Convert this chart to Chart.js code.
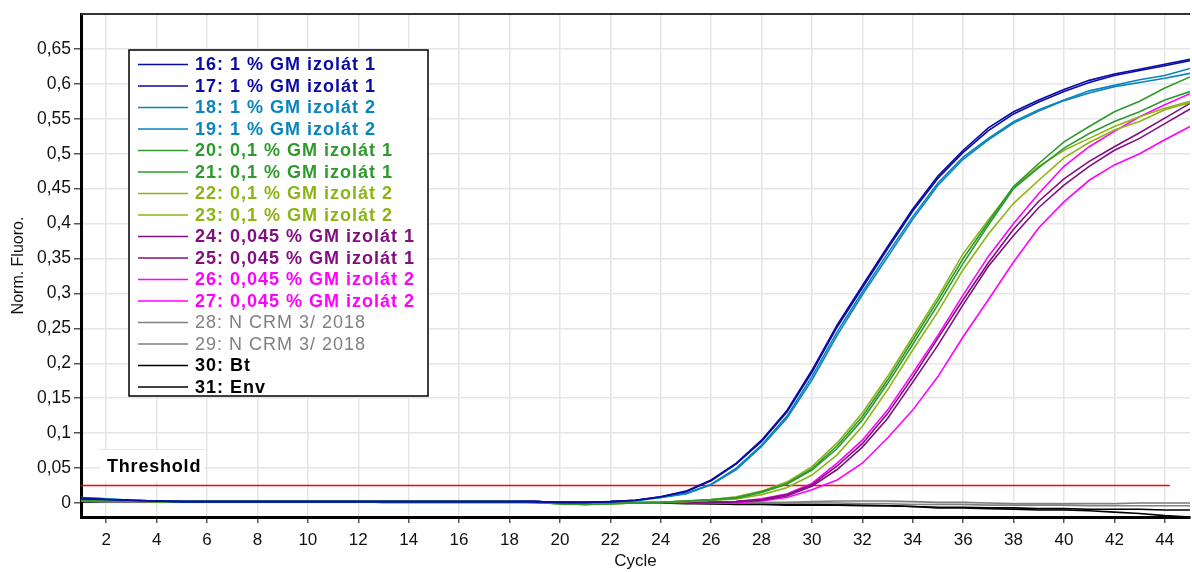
<!DOCTYPE html>
<html>
<head>
<meta charset="utf-8">
<script src="https://cdn.jsdelivr.net/npm/chart.js"></script>
<style>
  html, body { margin: 0; padding: 0; background: #fff; }
  #wrap { width: 1192px; height: 572px; }
</style>
</head>
<body>
<div id="wrap"><canvas id="chart" width="1192" height="572"></canvas></div>
<script>
// cycles on the x axis
const cycles = [1,2,3,4,5,6,7,8,9,10,11,12,13,14,15,16,17,18,19,20,21,22,23,24,25,26,27,28,29,30,31,32,33,34,35,36,37,38,39,40,41,42,43,44,45];
const xTicks = [2,4,6,8,10,12,14,16,18,20,22,24,26,28,30,32,34,36,38,40,42,44];
const yTicks = [0,0.05,0.1,0.15,0.2,0.25,0.3,0.35,0.4,0.45,0.5,0.55,0.6,0.65];

const thresholdValue = 0.025;
const thresholdEnd = 44.2;

// series names + colours
const seriesNames = [
  '16: 1 % GM izolát 1', '17: 1 % GM izolát 1',
  '18: 1 % GM izolát 2', '19: 1 % GM izolát 2',
  '20: 0,1 % GM izolát 1', '21: 0,1 % GM izolát 1',
  '22: 0,1 % GM izolát 2', '23: 0,1 % GM izolát 2',
  '24: 0,045 % GM izolát 1', '25: 0,045 % GM izolát 1',
  '26: 0,045 % GM izolát 2', '27: 0,045 % GM izolát 2',
  '28: N CRM 3/ 2018', '29: N CRM 3/ 2018',
  '30: Bt', '31: Env'
];
const seriesColors = [
  '#0a0aa5', '#0a0aa5', '#0a84bd', '#0a84bd',
  '#2e9a2e', '#2e9a2e', '#8cb414', '#8cb414',
  '#801080', '#801080', '#ff00ff', '#ff00ff',
  '#808080', '#808080', '#000000', '#000000'
];
const seriesBold = [true,true,true,true,true,true,true,true,true,true,true,true,false,false,true,true];

// normalised fluorescence per cycle
const s16 = [0.007,0.005,0.004,0.003,0.002,0.002,0.002,0.002,0.002,0.002,0.002,0.002,0.002,0.002,0.002,0.002,0.002,0.002,0.002,0.001,0.001,0.002,0.004,0.009,0.017,0.033,0.057,0.090,0.132,0.190,0.255,0.311,0.367,0.421,0.468,0.505,0.537,0.560,0.577,0.592,0.605,0.614,0.621,0.628,0.635];
const s17 = [0.006,0.005,0.004,0.003,0.002,0.002,0.002,0.002,0.002,0.002,0.002,0.002,0.002,0.002,0.002,0.002,0.002,0.002,0.002,0.001,0.001,0.002,0.004,0.009,0.016,0.032,0.056,0.088,0.130,0.187,0.252,0.308,0.364,0.418,0.465,0.502,0.533,0.557,0.574,0.589,0.602,0.612,0.619,0.626,0.633];
const s18 = [0.008,0.006,0.004,0.003,0.002,0.002,0.002,0.002,0.002,0.002,0.002,0.002,0.002,0.002,0.002,0.002,0.002,0.002,0.002,0.001,0.001,0.002,0.004,0.008,0.014,0.027,0.050,0.083,0.124,0.181,0.245,0.302,0.357,0.410,0.458,0.495,0.522,0.546,0.563,0.577,0.590,0.598,0.606,0.612,0.622];
const s19 = [0.008,0.006,0.004,0.003,0.002,0.002,0.002,0.002,0.002,0.002,0.002,0.002,0.002,0.002,0.002,0.002,0.002,0.002,0.002,0.001,0.001,0.002,0.003,0.008,0.013,0.026,0.048,0.081,0.121,0.176,0.240,0.298,0.352,0.406,0.455,0.492,0.520,0.544,0.561,0.576,0.587,0.596,0.602,0.608,0.615];
const s20 = [0.004,0.003,0.003,0.002,0.002,0.002,0.002,0.002,0.002,0.002,0.002,0.002,0.002,0.002,0.002,0.002,0.002,0.002,0.001,-0.001,-0.002,-0.001,0.000,0.001,0.003,0.005,0.008,0.016,0.028,0.049,0.082,0.124,0.176,0.233,0.290,0.350,0.402,0.453,0.486,0.517,0.539,0.560,0.575,0.594,0.610];
const s21 = [0.004,0.003,0.003,0.002,0.002,0.002,0.002,0.002,0.002,0.002,0.002,0.002,0.002,0.002,0.002,0.002,0.002,0.002,0.001,-0.001,-0.002,-0.001,0.000,0.001,0.003,0.004,0.007,0.015,0.027,0.047,0.078,0.119,0.171,0.227,0.284,0.343,0.398,0.450,0.480,0.508,0.529,0.546,0.560,0.577,0.589];
const s22 = [0.004,0.003,0.003,0.002,0.002,0.002,0.002,0.002,0.002,0.002,0.002,0.002,0.002,0.002,0.002,0.002,0.002,0.002,0.001,-0.001,-0.002,-0.001,0.000,0.001,0.003,0.005,0.009,0.017,0.030,0.052,0.086,0.129,0.181,0.238,0.295,0.357,0.405,0.452,0.482,0.505,0.522,0.539,0.553,0.565,0.575];
const s23 = [0.004,0.003,0.003,0.002,0.002,0.002,0.002,0.002,0.002,0.002,0.002,0.002,0.002,0.002,0.002,0.002,0.002,0.002,0.001,-0.001,-0.002,-0.001,0.000,0.001,0.002,0.004,0.006,0.012,0.022,0.040,0.069,0.110,0.162,0.219,0.274,0.334,0.385,0.429,0.462,0.494,0.516,0.534,0.546,0.563,0.573];
const s24 = [0.004,0.003,0.003,0.002,0.002,0.002,0.002,0.002,0.002,0.002,0.002,0.002,0.002,0.002,0.002,0.002,0.002,0.002,0.002,0.001,0.000,0.000,0.000,0.000,0.000,0.001,0.002,0.005,0.012,0.026,0.053,0.085,0.128,0.180,0.236,0.291,0.344,0.392,0.432,0.464,0.489,0.510,0.530,0.551,0.572];
const s25 = [0.004,0.003,0.003,0.002,0.002,0.002,0.002,0.002,0.002,0.002,0.002,0.002,0.002,0.002,0.002,0.002,0.002,0.002,0.002,0.001,0.000,0.000,0.000,0.000,0.000,0.001,0.002,0.004,0.010,0.024,0.048,0.080,0.121,0.173,0.226,0.284,0.339,0.383,0.423,0.455,0.482,0.505,0.522,0.543,0.564];
const s26 = [0.005,0.004,0.003,0.002,0.002,0.002,0.002,0.002,0.002,0.002,0.002,0.002,0.001,0.001,0.001,0.001,0.001,0.001,0.001,0.001,0.000,0.000,0.000,0.000,0.000,0.001,0.002,0.006,0.013,0.028,0.057,0.090,0.133,0.186,0.240,0.298,0.353,0.400,0.443,0.482,0.510,0.532,0.553,0.570,0.586];
const s27 = [0.005,0.004,0.003,0.002,0.002,0.002,0.002,0.002,0.002,0.002,0.002,0.002,0.001,0.001,0.001,0.001,0.001,0.001,0.001,0.001,0.000,0.000,0.000,0.000,0.000,0.000,0.001,0.003,0.008,0.019,0.033,0.057,0.093,0.133,0.181,0.238,0.291,0.345,0.394,0.431,0.462,0.484,0.500,0.520,0.539];
const s28 = [0.003,0.002,0.002,0.002,0.002,0.002,0.002,0.002,0.002,0.002,0.002,0.002,0.002,0.002,0.002,0.002,0.002,0.002,0.002,0.001,0.001,0.001,0.001,0.001,0.001,0.001,0.001,0.001,0.001,0.002,0.003,0.003,0.003,0.002,0.001,0.001,0.000,-0.001,-0.001,-0.001,-0.001,-0.001,0.000,0.000,0.000];
const s29 = [0.003,0.002,0.002,0.002,0.002,0.002,0.002,0.002,0.002,0.002,0.002,0.002,0.002,0.002,0.002,0.002,0.002,0.002,0.002,0.001,0.001,0.001,0.001,0.001,0.000,0.000,0.000,0.000,0.000,0.000,0.000,-0.001,-0.001,-0.002,-0.002,-0.002,-0.003,-0.003,-0.003,-0.003,-0.004,-0.004,-0.004,-0.004,-0.004];
const s30 = [0.002,0.002,0.002,0.002,0.002,0.002,0.002,0.002,0.002,0.002,0.002,0.002,0.002,0.002,0.002,0.002,0.002,0.002,0.002,0.001,0.001,0.000,0.000,0.000,0.000,-0.001,-0.001,-0.001,-0.002,-0.002,-0.003,-0.003,-0.004,-0.005,-0.006,-0.006,-0.007,-0.007,-0.008,-0.008,-0.009,-0.009,-0.009,-0.010,-0.010];
const s31 = [0.002,0.002,0.002,0.002,0.002,0.002,0.002,0.002,0.002,0.002,0.002,0.002,0.002,0.002,0.002,0.002,0.002,0.002,0.002,0.001,0.001,0.000,0.000,0.000,-0.001,-0.001,-0.002,-0.002,-0.003,-0.003,-0.003,-0.004,-0.004,-0.005,-0.007,-0.007,-0.008,-0.009,-0.010,-0.010,-0.011,-0.013,-0.015,-0.018,-0.020];

const seriesValues = [s16,s17,s18,s19,s20,s21,s22,s23,s24,s25,s26,s27,s28,s29,s30,s31];

const FONT = "'Liberation Sans', Arial, sans-serif";

const datasets = seriesValues.map((vals, i) => ({
  label: seriesNames[i],
  data: vals.map((v, k) => ({ x: cycles[k], y: v })),
  borderColor: seriesColors[i],
  borderWidth: 1.6,
  pointRadius: 0,
  fill: false,
  tension: 0
}));

// red threshold line
datasets.push({
  label: 'Threshold',
  data: [{ x: cycles[0], y: thresholdValue }, { x: thresholdEnd, y: thresholdValue }],
  borderColor: '#ff0000',
  borderWidth: 1.6,
  pointRadius: 0,
  fill: false
});

// top frame, threshold label and legend box
const overlay = {
  id: 'overlay',
  afterDatasetsDraw(chart) {
    const ctx = chart.ctx;
    const a = chart.chartArea;
    ctx.save();
    // top border
    ctx.strokeStyle = '#333';
    ctx.lineWidth = 2;
    ctx.beginPath();
    ctx.moveTo(a.left, a.top);
    ctx.lineTo(a.right, a.top);
    ctx.stroke();

    // Threshold label
    const ty = chart.scales.y.getPixelForValue(thresholdValue);
    ctx.fillStyle = '#fff';
    ctx.fillRect(a.left + 19, ty - 36, 104, 32);
    ctx.strokeStyle = '#e4e4e4';
    ctx.lineWidth = 1;
    ctx.beginPath();
    ctx.moveTo(a.left + 19, ty - 36);
    ctx.lineTo(a.left + 123, ty - 36);
    ctx.stroke();
    ctx.fillStyle = '#000';
    ctx.font = 'bold 18px ' + FONT;
    ctx.letterSpacing = '0.8px';
    ctx.textBaseline = 'middle';
    ctx.textAlign = 'left';
    ctx.fillText('Threshold', a.left + 26, ty - 19);

    // legend
    const lx = a.left + 48, ly = a.top + 36, lw = 299, lh = 346;
    ctx.fillStyle = '#fff';
    ctx.fillRect(lx, ly, lw, lh);
    ctx.strokeStyle = '#000';
    ctx.lineWidth = 1.5;
    ctx.strokeRect(lx, ly, lw, lh);
    const rowH = 21.5;
    chart.data.datasets.slice(0, seriesNames.length).forEach((ds, i) => {
      const cy = ly + 14.5 + i * rowH;
      ctx.strokeStyle = ds.borderColor;
      ctx.lineWidth = 1.6;
      ctx.beginPath();
      ctx.moveTo(lx + 9, cy);
      ctx.lineTo(lx + 59, cy);
      ctx.stroke();
      ctx.fillStyle = ds.borderColor;
      ctx.font = (seriesBold[i] ? 'bold ' : '') + '18px ' + FONT;
      ctx.letterSpacing = '1px';
      ctx.fillText(ds.label, lx + 66, cy + 1);
    });
    ctx.restore();
  }
};

new Chart(document.getElementById('chart'), {
  type: 'line',
  data: { datasets: datasets },
  options: {
    responsive: false,
    animation: false,
    events: [],
    layout: { padding: { top: 14, right: 2, left: 0, bottom: 0 } },
    plugins: {
      legend: { display: false },
      tooltip: { enabled: false }
    },
    scales: {
      x: {
        type: 'linear',
        min: 1,
        max: 45,
        afterBuildTicks: (s) => { s.ticks = xTicks.map(v => ({ value: v })); },
        afterFit: (s) => { s.height = 55; },
        grid: { color: '#e6e6e6', lineWidth: 1.5, tickColor: '#555', tickLength: 6, tickWidth: 1.5 },
        border: { color: '#000', width: 3 },
        ticks: { color: '#111', font: { family: FONT, size: 17 }, padding: 7, maxRotation: 0, autoSkip: false },
        title: { display: true, text: 'Cycle', color: '#111', font: { family: FONT, size: 17 }, padding: { top: 0, bottom: 0 } }
      },
      y: {
        min: -0.02,
        max: 0.7,
        afterBuildTicks: (s) => { s.ticks = yTicks.map(v => ({ value: v })); },
        afterFit: (s) => { s.width = 81; },
        grid: { color: '#e6e6e6', lineWidth: 1.5, tickColor: '#555', tickLength: 7, tickWidth: 1.5 },
        border: { color: '#000', width: 3 },
        ticks: {
          color: '#111',
          font: { family: FONT, size: 17.5 },
          padding: 3,
          callback: (v) => String(Math.round(v * 100) / 100).replace('.', ',')
        },
        title: { display: true, text: 'Norm. Fluoro.', color: '#111', font: { family: FONT, size: 16 }, padding: { top: 9, bottom: 0 } }
      }
    }
  },
  plugins: [overlay]
});
</script>
</body>
</html>
